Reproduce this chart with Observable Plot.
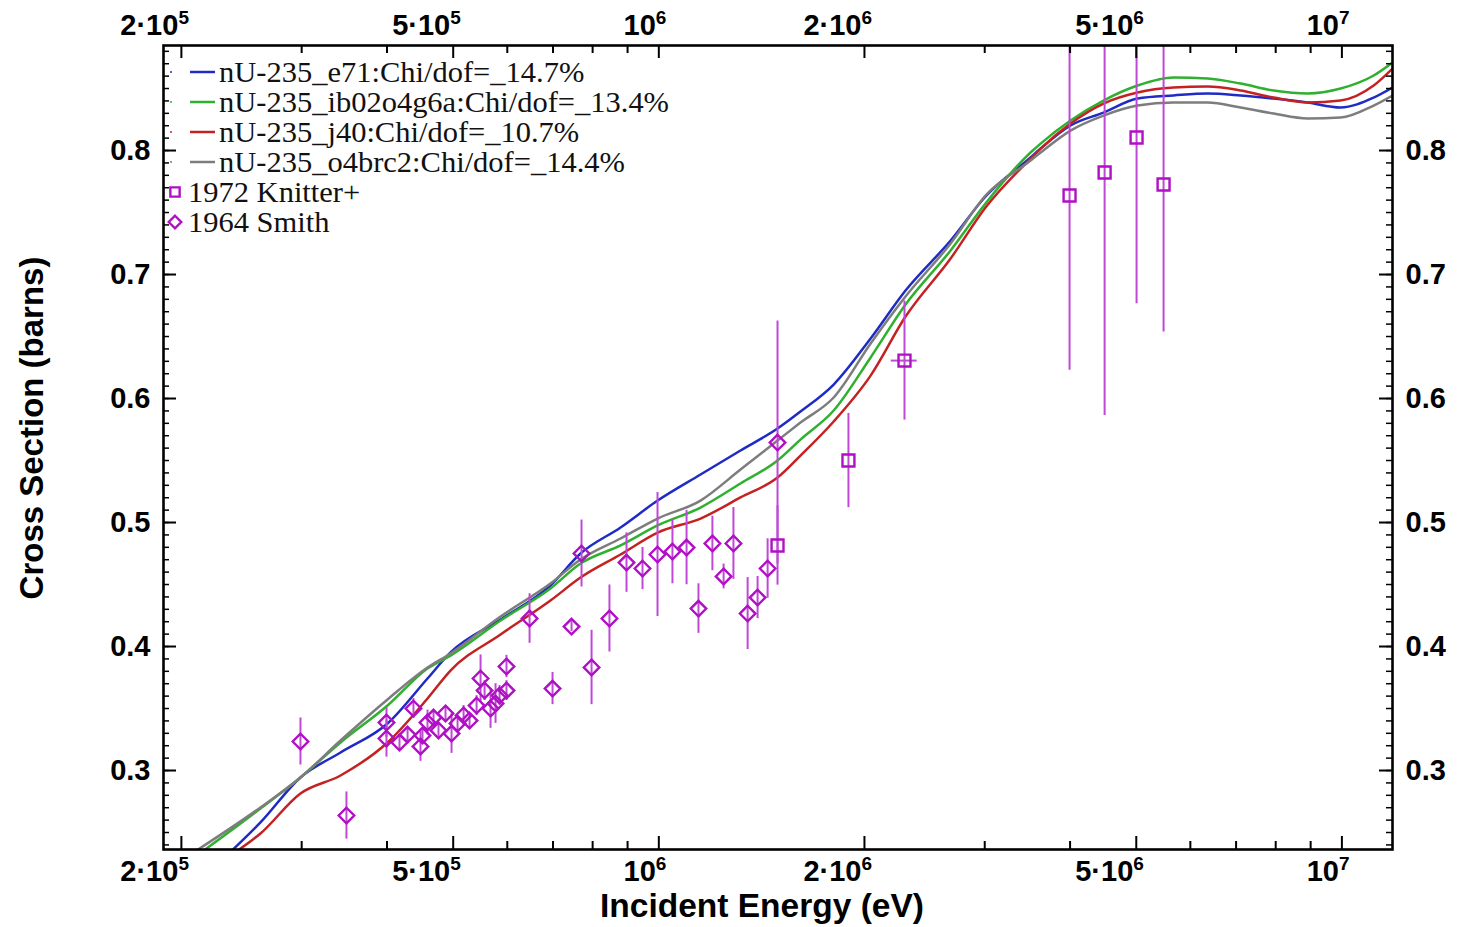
<!DOCTYPE html>
<html><head><meta charset="utf-8">
<script src="https://cdn.jsdelivr.net/npm/d3@7"></script>
<script src="https://cdn.jsdelivr.net/npm/@observablehq/plot@0.6"></script>
<style>body{margin:0;background:#fff;} #chart svg{display:block;background:#fff}</style>
</head><body><div id="chart"></div>
<script>
// ---------- data ----------
const curveNames = ["nU-235_e71:Chi/dof=_14.7%", "nU-235_ib02o4g6a:Chi/dof=_13.4%", "nU-235_j40:Chi/dof=_10.7%", "nU-235_o4brc2:Chi/dof=_14.4%"];
const curveColors = ["#1f2bc4", "#2fb02f", "#c42222", "#7d7d7d"];
const curveStartE = [2.321e5, 2.097e5, 2.360e5, 2.062e5];
const curveStartS = [0.2306, 0.2306, 0.2315, 0.2323];
const energyGrid = [2.611e5, 2.988e5, 3.420e5, 4.007e5, 4.585e5, 4.955e5, 5.865e5, 6.94e5, 7.68e5, 8.79e5, 9.96e5, 1.151e6, 1.317e6, 1.492e6, 1.612e6, 1.803e6, 2.042e6, 2.297e6, 2.674e6, 3.008e6, 3.501e6, 3.622e6, 4.006e6, 4.478e6, 5.022e6, 5.670e6, 6.360e6, 7.108e6, 7.943e6, 8.908e6, 9.955e6, 1.113e7, 1.186e7];
const sigmaE71 = [0.2581, 0.2944, 0.3145, 0.3379, 0.3742, 0.3952, 0.4218, 0.4492, 0.4750, 0.4960, 0.5177, 0.5387, 0.5581, 0.5758, 0.5895, 0.6113, 0.6484, 0.6871, 0.7274, 0.7629, 0.7944, 0.8016, 0.8202, 0.8306, 0.8419, 0.8444, 0.8460, 0.8444, 0.8419, 0.8387, 0.8347, 0.8427, 0.8508];
const sigmaIB02 = [0.2694, 0.2944, 0.3226, 0.3524, 0.3823, 0.3927, 0.4210, 0.4468, 0.4669, 0.4815, 0.4976, 0.5121, 0.5315, 0.5500, 0.5669, 0.5903, 0.6331, 0.6758, 0.7194, 0.7573, 0.7984, 0.8056, 0.8242, 0.8403, 0.8524, 0.8589, 0.8581, 0.8540, 0.8484, 0.8460, 0.8500, 0.8605, 0.8710];
const sigmaJ40 = [0.2492, 0.2815, 0.2960, 0.3226, 0.3581, 0.3806, 0.4097, 0.4371, 0.4556, 0.4742, 0.4919, 0.5032, 0.5202, 0.5363, 0.5540, 0.5815, 0.6185, 0.6661, 0.7129, 0.7540, 0.7935, 0.8016, 0.8218, 0.8379, 0.8468, 0.8508, 0.8516, 0.8484, 0.8427, 0.8387, 0.8403, 0.8524, 0.8661];
const sigmaO4 = [0.2702, 0.2944, 0.3242, 0.3573, 0.3831, 0.3944, 0.4242, 0.4508, 0.4702, 0.4871, 0.5032, 0.5177, 0.5427, 0.5661, 0.5806, 0.6008, 0.6444, 0.6823, 0.7250, 0.7637, 0.7919, 0.7984, 0.8161, 0.8282, 0.8363, 0.8387, 0.8387, 0.8347, 0.8298, 0.8258, 0.8266, 0.8363, 0.8444];

const smithE = [2.988e5, 3.489e5, 3.993e5, 3.993e5, 4.172e5, 4.287e5, 4.373e5, 4.478e5, 4.508e5, 4.585e5, 4.679e5, 4.758e5, 4.872e5, 4.972e5, 5.074e5, 5.178e5, 5.283e5, 5.410e5, 5.483e5, 5.558e5, 5.671e5, 5.767e5, 5.846e5, 5.984e5, 5.984e5, 6.468e5, 6.989e5, 7.451e5, 7.706e5, 7.971e5, 8.467e5, 8.968e5, 9.465e5, 9.956e5, 1.047e6, 1.098e6, 1.143e6, 1.198e6, 1.244e6, 1.286e6, 1.349e6, 1.395e6, 1.443e6, 1.492e6];
const smithS = [0.3234, 0.2637, 0.3387, 0.3258, 0.3226, 0.3290, 0.3500, 0.3194, 0.3282, 0.3387, 0.3427, 0.3323, 0.3460, 0.3298, 0.3379, 0.3444, 0.3403, 0.3524, 0.3742, 0.3645, 0.3500, 0.3540, 0.3605, 0.3645, 0.3839, 0.4226, 0.3661, 0.4161, 0.4750, 0.3831, 0.4226, 0.4677, 0.4629, 0.4742, 0.4766, 0.4798, 0.4306, 0.4831, 0.4565, 0.4831, 0.4266, 0.4395, 0.4629, 0.5645];
const smithErr = [0.019, 0.019, 0.012, 0.015, 0.006, 0.006, 0.008, 0.012, 0.006, 0.010, 0.006, 0.006, 0.006, 0.016, 0.006, 0.008, 0.006, 0.008, 0.019, 0.008, 0.016, 0.016, 0.008, 0.008, 0.009, 0.020, 0.013, 0.004, 0.027, 0.030, 0.027, 0.024, 0.017, 0.050, 0.026, 0.030, 0.020, 0.022, 0.010, 0.029, 0.029, 0.017, 0.024, 0.098];

const knitterE = [1.492e6, 1.895e6, 2.289e6, 3.993e6, 4.494e6, 5.005e6, 5.482e6];
const knitterS = [0.4815, 0.5500, 0.6306, 0.7637, 0.7823, 0.8105, 0.7726];
const knitterErr = [0.032, 0.038, 0.048, 0.141, 0.196, 0.134, 0.119];
const knitterEErr = [0, 0, 0.1e6, 0, 0, 0, 0];

const xTickValues = [2e5, 5e5, 1e6, 2e6, 5e6, 1e7];
const xTickMantissa = ["2·10", "5·10", "10", "2·10", "5·10", "10"];
const xTickExponent = ["5", "5", "6", "6", "6", "7"];
const xMinorTicks = [3e5, 4e5, 6e5, 7e5, 8e5, 9e5, 3e6, 4e6, 6e6, 7e6, 8e6, 9e6];
const yTickValues = [0.3, 0.4, 0.5, 0.6, 0.7, 0.8];
const yTickLabels = ["0.3", "0.4", "0.5", "0.6", "0.7", "0.8"];
const yMinorTicks = d3.range(24, 89).map(v => v / 100);

const expNames = ["1972 Knitter+", "1964 Smith"];
const xTitle = "Incident Energy (eV)";
const yTitle = "Cross Section (barns)";

// ---------- layout ----------
const W = 1457, H = 927, mL = 163, mR = 65, mT = 45, mB = 78;
const frameW = W - mL - mR, frameH = H - mT - mB;
const markerColor = "#b010c4", barColor = "#c048d6";
const sans = "'Liberation Sans', Arial, Helvetica, sans-serif";
const serif = "'Liberation Serif', 'Times New Roman', serif";

const curveSigmas = [sigmaE71, sigmaIB02, sigmaJ40, sigmaO4];
const lineData = curveNames.flatMap((name, i) => [
  {e: curveStartE[i], s: curveStartS[i], name},
  ...energyGrid.map((e, j) => ({e, s: curveSigmas[i][j], name}))
]);
const smith = smithE.map((e, i) => ({e, s: smithS[i], err: smithErr[i]}));
const knitter = knitterE.map((e, i) => ({e, s: knitterS[i], err: knitterErr[i], eerr: knitterEErr[i]}));

const tickFont = {fontFamily: sans, fontWeight: "bold", fontSize: 29, fill: "#000", lineAnchor: "middle"};
const expFont = {fontFamily: sans, fontWeight: "bold", fontSize: 19, fill: "#000", lineAnchor: "middle"};

const chart = Plot.plot({
  width: W, height: H, marginLeft: mL, marginRight: mR, marginTop: mT, marginBottom: mB,
  style: {background: "#fff"},
  x: {type: "log", domain: [1.883e5, 1.186e7], axis: null},
  y: {domain: [0.2363, 0.8847], axis: null},
  color: {domain: curveNames, range: curveColors},
  marks: [
    // curves
    Plot.line(lineData, {x: "e", y: "s", z: "name", stroke: "name", strokeWidth: 2.5, curve: "monotone-x", clip: true}),
    // error bars
    Plot.ruleX(smith, {x: "e", y1: d => d.s - d.err, y2: d => d.s + d.err, stroke: barColor, strokeWidth: 2, clip: true}),
    Plot.ruleX(knitter, {x: "e", y1: d => d.s - d.err, y2: d => d.s + d.err, stroke: barColor, strokeWidth: 2, clip: true}),
    Plot.ruleY(knitter.filter(d => d.eerr > 0), {y: "s", x1: d => d.e - d.eerr, x2: d => d.e + d.eerr, stroke: barColor, strokeWidth: 2, clip: true}),
    // markers
    Plot.dot(smith, {x: "e", y: "s", symbol: "diamond2", r: 7, stroke: markerColor, strokeWidth: 2.4, fill: "none"}),
    Plot.dot(knitter, {x: "e", y: "s", symbol: "square2", r: 7.6, stroke: markerColor, strokeWidth: 2.4, fill: "none"}),
    // inward ticks
    Plot.ruleX(xTickValues, {x: d => d, insetTop: frameH - 13, stroke: "#000", strokeWidth: 2}),
    Plot.ruleX(xTickValues, {x: d => d, insetBottom: frameH - 13, stroke: "#000", strokeWidth: 2}),
    Plot.ruleX(xMinorTicks, {x: d => d, insetTop: frameH - 8, stroke: "#000", strokeWidth: 2}),
    Plot.ruleX(xMinorTicks, {x: d => d, insetBottom: frameH - 8, stroke: "#000", strokeWidth: 2}),
    Plot.ruleY(yTickValues, {y: d => d, insetRight: frameW - 13, stroke: "#000", strokeWidth: 2}),
    Plot.ruleY(yTickValues, {y: d => d, insetLeft: frameW - 13, stroke: "#000", strokeWidth: 2}),
    Plot.ruleY(yMinorTicks, {y: d => d, insetRight: frameW - 6, stroke: "#000", strokeWidth: 1.5}),
    Plot.ruleY(yMinorTicks, {y: d => d, insetLeft: frameW - 6, stroke: "#000", strokeWidth: 1.5}),
    Plot.frame({stroke: "#000", strokeWidth: 2.6}),
    // x tick labels (mantissa + raised exponent), bottom and top
    Plot.text(xTickValues, {x: d => d, text: (d, i) => xTickMantissa[i], frameAnchor: "bottom", dy: 22, dx: -3, textAnchor: "end", ...tickFont}),
    Plot.text(xTickValues, {x: d => d, text: (d, i) => xTickExponent[i], frameAnchor: "bottom", dy: 14, dx: -3, textAnchor: "start", ...expFont}),
    Plot.text(xTickValues, {x: d => d, text: (d, i) => xTickMantissa[i], frameAnchor: "top", dy: -20, dx: -3, textAnchor: "end", ...tickFont}),
    Plot.text(xTickValues, {x: d => d, text: (d, i) => xTickExponent[i], frameAnchor: "top", dy: -28, dx: -3, textAnchor: "start", ...expFont}),
    // y tick labels, left and right
    Plot.text(yTickValues, {y: d => d, text: (d, i) => yTickLabels[i], frameAnchor: "left", dx: -13, textAnchor: "end", ...tickFont}),
    Plot.text(yTickValues, {y: d => d, text: (d, i) => yTickLabels[i], frameAnchor: "right", dx: 13, textAnchor: "start", ...tickFont})
  ]
});

const svg = d3.select(chart);
// ---------- axis titles ----------
svg.append("text").attr("x", 762).attr("y", 905).attr("text-anchor", "middle").attr("dy", "0.35em")
  .attr("font-family", sans).attr("font-weight", "bold").attr("font-size", 33.5).attr("fill", "#000").text(xTitle);
svg.append("text").attr("transform", "translate(31,428) rotate(-90)").attr("text-anchor", "middle").attr("dy", "0.35em")
  .attr("font-family", sans).attr("font-weight", "bold").attr("font-size", 33).attr("fill", "#000").text(yTitle);

// ---------- legend (inside frame, top-left) ----------
// serif text at 27px, widened horizontally to match the original's wide glyphs without overlapping rows
const lg = svg.append("g").attr("font-family", serif).attr("font-size", 27).attr("text-anchor", "start");
const stretch = 1.13;
curveNames.forEach((name, i) => {
  const cy = mT + 27 + i * 30;
  lg.append("circle").attr("cx", mL + 8).attr("cy", cy).attr("r", 1).attr("fill", curveColors[i]);
  lg.append("line").attr("x1", mL + 27).attr("x2", mL + 52).attr("y1", cy).attr("y2", cy)
    .attr("stroke", curveColors[i]).attr("stroke-width", 2.5);
  lg.append("text").attr("transform", `translate(${mL + 56},${cy}) scale(${stretch},1.08)`).attr("dy", "0.35em").attr("fill", "#111").text(name);
});
const symbols = [d3.symbolSquare2, d3.symbolDiamond2];
expNames.forEach((name, i) => {
  const cy = mT + 147 + i * 30;
  lg.append("path").attr("d", d3.symbol(symbols[i], i === 0 ? 110 : 100)()).attr("transform", `translate(${mL + 12},${cy})`)
    .attr("fill", "none").attr("stroke", markerColor).attr("stroke-width", 2.4);
  lg.append("text").attr("transform", `translate(${mL + 25},${cy}) scale(${stretch},1.08)`).attr("dy", "0.35em").attr("fill", "#111").text(name);
});

document.getElementById("chart").appendChild(chart);
</script>
</body></html>
